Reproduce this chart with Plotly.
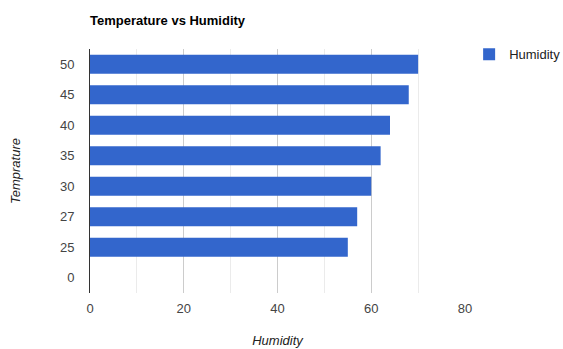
import plotly.graph_objects as go

# Temperature categories (bottom to top) and humidity readings
temperature = ["0", "25", "27", "30", "35", "40", "45", "50"]
humidity = [0, 55, 57, 60, 62, 64, 68, 70]
x_ticks = [0, 20, 40, 60, 80]

FONT = "Liberation Sans, Arial, sans-serif"
BAR_COLOR = "#3366cc"

fig = go.Figure(
    go.Bar(
        x=humidity,
        y=temperature,
        orientation="h",
        name="Humidity",
        marker=dict(color=BAR_COLOR, line=dict(width=0)),
    )
)

fig.update_layout(
    width=563,
    height=349,
    margin=dict(l=90, r=98, t=49, b=56, autoexpand=False),
    paper_bgcolor="white",
    plot_bgcolor="white",
    bargap=0.37,
    font=dict(family=FONT, size=13, color="#444444"),
    title=dict(
        text="<b>Temperature vs Humidity</b>",
        x=90 / 563,
        xanchor="left",
        y=1 - 20 / 349,
        yanchor="middle",
        font=dict(family=FONT, size=13, color="#000000"),
    ),
    showlegend=True,
    legend=dict(
        x=1.011,
        xanchor="left",
        y=1.04,
        yanchor="top",
        font=dict(family=FONT, size=13, color="#222222"),
        bgcolor="rgba(0,0,0,0)",
    ),
    xaxis=dict(
        range=[0, 80],
        tickvals=x_ticks,
        showgrid=True,
        gridcolor="#cccccc",
        gridwidth=1,
        minor=dict(dtick=10, showgrid=True, gridcolor="#ebebeb", gridwidth=1),
        zeroline=False,
        showline=False,
        ticks="",
        ticklabelstandoff=6,
        tickfont=dict(family=FONT, size=13, color="#444444"),
        title=dict(
            text="<i>Humidity</i>",
            font=dict(family=FONT, size=13, color="#222222"),
            standoff=20,
        ),
    ),
    yaxis=dict(
        type="category",
        showgrid=False,
        showline=True,
        linecolor="#333333",
        linewidth=1,
        ticks="",
        ticklabelstandoff=12,
        tickfont=dict(family=FONT, size=13, color="#444444"),
        title=dict(
            text="<i>Temprature</i>",
            font=dict(family=FONT, size=13, color="#222222"),
            standoff=36,
        ),
    ),
)

fig.write_html("out.html")
